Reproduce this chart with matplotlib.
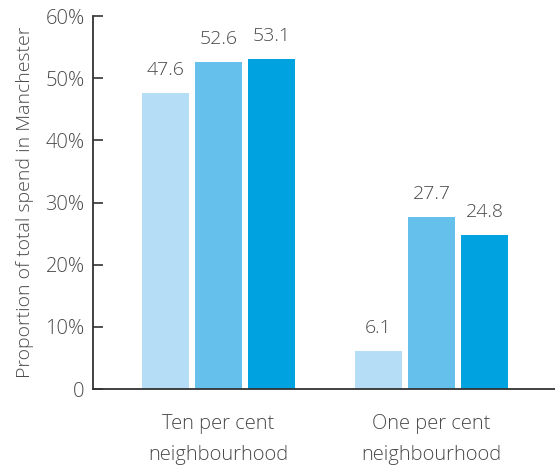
import matplotlib
matplotlib.use("Agg")
import matplotlib.pyplot as plt
import numpy as np

categories = ["Ten per cent\nneighbourhood", "One per cent\nneighbourhood"]
series_a = [47.6, 6.1]
series_b = [52.6, 27.7]
series_c = [53.1, 24.8]
yticks = [0, 10, 20, 30, 40, 50, 60]
ytick_labels = ["0", "10%", "20%", "30%", "40%", "50%", "60%"]
colors = ["#b5ddf5", "#66c0ec", "#00a3e0"]

plt.rcParams['font.family'] = ['Open Sans', 'DejaVu Sans']
plt.rcParams['font.weight'] = 300
txt = "#4a4a4a"

fig = plt.figure(figsize=(5.55, 4.69), dpi=100)
ax = fig.add_axes([93/555, 1-389/469, 1-93/555, (389-16)/469])

x = np.arange(len(categories))
w = 47/213
step = 53/213
for i, (vals, c) in enumerate(zip([series_a, series_b, series_c], colors)):
    pos = x + (i-1)*step
    ax.bar(pos, vals, width=w, color=c, zorder=2)
    for p, v in zip(pos, vals):
        ax.annotate(f"{v}", (p, v), xytext=(0, 10), textcoords="offset points",
                    ha="center", va="bottom", fontsize=14, color=txt, fontweight=300)

ax.set_xlim((93-218.5)/213, (555-218.5)/213)
ax.set_ylim(0, 60)
ax.set_yticks(yticks)
ax.set_yticklabels(ytick_labels)
ax.set_xticks(x)
ax.set_xticklabels(categories, linespacing=1.75)
ax.tick_params(axis='y', direction='in', length=7, width=1.2, color="#333333",
               labelsize=14.5, labelcolor=txt, pad=6)
ax.tick_params(axis='x', length=0, labelsize=14.5, labelcolor=txt, pad=18)
for s in ['top', 'right']:
    ax.spines[s].set_visible(False)
for s in ['left', 'bottom']:
    ax.spines[s].set_color("#333333")
    ax.spines[s].set_linewidth(1.3)
ax.set_ylabel("Proportion of total spend in Manchester", fontsize=14, color=txt,
              labelpad=8, fontweight=300)

fig.savefig("out.png", dpi=100)
